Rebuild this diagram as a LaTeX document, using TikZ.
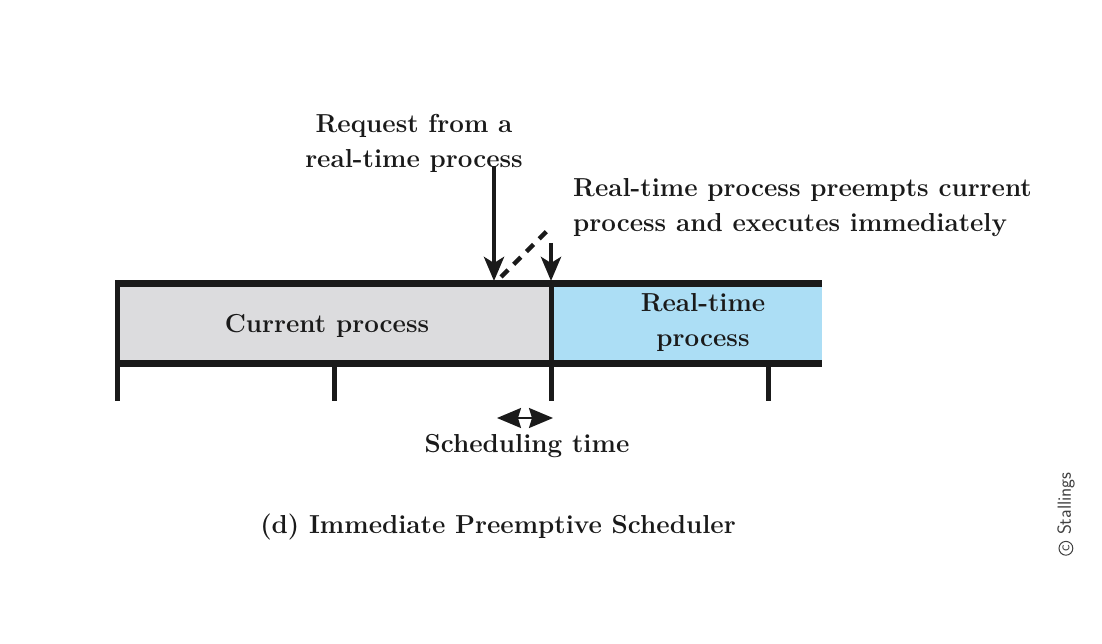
\documentclass[tikz,border=0pt]{standalone}
\usepackage{xcolor}
\definecolor{ColGray}{RGB}{220,220,222}
\definecolor{ColBlue}{RGB}{172,222,245}
\definecolor{ColLine}{RGB}{26,26,26}
\usepackage{tikz}
\usetikzlibrary{arrows.meta}
\tikzstyle{Label}=[font=\fontsize{26}{35}\selectfont\bfseries,text=ColLine,
inner sep=0pt]
\tikzstyle{Bar}=[draw=ColLine,line width=7pt]
\tikzstyle{Tick}=[draw=ColLine,line width=5pt]
\tikzstyle{Edge}=[draw=ColLine,line width=4.5pt,
-{Stealth[length=24pt,width=20pt,inset=6pt]}]
\tikzstyle{Dash}=[draw=ColLine,line width=4.5pt,dash pattern=on 10pt off 8pt]
\tikzstyle{Span}=[draw=ColLine,line width=2pt,
{Stealth[length=24pt,width=20pt,inset=3pt]}-{Stealth[length=24pt,width=20pt,inset=3pt]}]

\begin{document}
\begin{tikzpicture}[x=1pt,y=-1pt]
        \useasboundingbox(0,0)rectangle(1102,644);
        % boxes
        \fill[ColGray](117,283)rectangle(551,363);
        \fill[ColBlue](551,283)rectangle(822,363);
        \coordinate(tl)at(115,283);
        \coordinate(tr)at(822,283);
        \coordinate(bl)at(115,363);
        \coordinate(br)at(822,363);
        \draw[Bar](tl)--(tr);
        \draw[Bar](bl)--(br);
        \coordinate(t0)at(117.5,280);
        \coordinate(t0b)at(117.5,401);
        \coordinate(t1)at(334,363);
        \coordinate(t1b)at(334,401);
        \coordinate(t2)at(551,280);
        \coordinate(t2b)at(551,401);
        \coordinate(t3)at(768,363);
        \coordinate(t3b)at(768,401);
        \draw[Tick](t0)--(t0b);
        \draw[Tick](t1)--(t1b);
        \draw[Tick](t2)--(t2b);
        \draw[Tick](t3)--(t3b);
        \node[Label](cur)at(327,326){Current process};
        \node[Label,align=center](rt)at(703,322){Real-time\\process};
        % arrows
        \node[Label,align=center](req)at(414,143){Request from a\\real-time process};
        \coordinate(reqs)at(494,166);
        \coordinate(reqt)at(494,281);
        \draw[Edge](reqs)--(reqt);
        \coordinate(pre)at(551,227);
        \coordinate(pres)at(551,243);
        \coordinate(pret)at(551,281);
        \coordinate(dstart)at(501,277);
        \draw[Dash](dstart)--(pre);
        \draw[Edge](pres)--(pret);
        \node[Label,align=left,anchor=west](note)at(573,208)
            {Real-time process preempts current\\process and executes immediately};
        % scheduling time
        \coordinate(sa)at(497,418);
        \coordinate(sb)at(553,418);
        \draw[Span](sa)--(sb);
        \node[Label](sched)at(527,446){Scheduling time};
        \node[Label](cap)at(498,527){(d) Immediate Preemptive Scheduler};
        % mark
        \node[rotate=90,font=\sffamily\fontsize{19}{22}\selectfont,text=black!75,
            inner sep=0pt](mark)at(1066,514)
            {\tikz[baseline=-0.6ex]\node[circle,draw,line width=1pt,inner sep=1.5pt,
            font=\sffamily\fontsize{15}{16}\selectfont]{c};\ Stallings};
    \end{tikzpicture}
\end{document}
